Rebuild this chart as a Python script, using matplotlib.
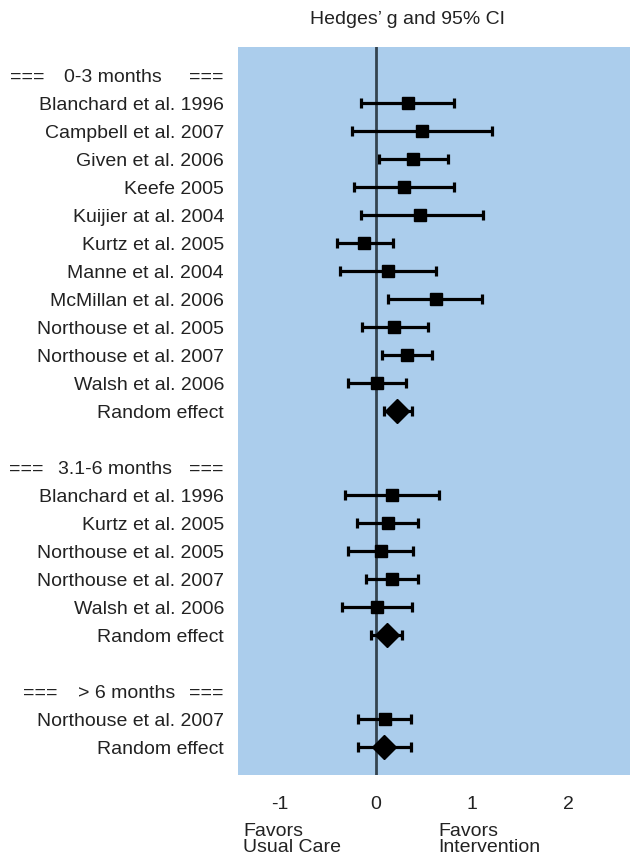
import matplotlib
matplotlib.use("Agg")
import matplotlib.pyplot as plt
from matplotlib.transforms import blended_transform_factory

labels = [
    "0-3 months",
    "Blanchard et al. 1996", "Campbell et al. 2007", "Given et al. 2006", "Keefe 2005",
    "Kuijier at al. 2004", "Kurtz et al. 2005", "Manne et al. 2004", "McMillan et al. 2006",
    "Northouse et al. 2005", "Northouse et al. 2007", "Walsh et al. 2006", "Random effect",
    "",
    "3.1-6 months",
    "Blanchard et al. 1996", "Kurtz et al. 2005", "Northouse et al. 2005",
    "Northouse et al. 2007", "Walsh et al. 2006", "Random effect",
    "",
    "> 6 months",
    "Northouse et al. 2007", "Random effect",
]
# kind: 'h' header, 's' study, 'r' random effect, '' blank
kinds = ["h"] + ["s"] * 11 + ["r", "", "h"] + ["s"] * 5 + ["r", "", "h", "s", "r"]

g = [None, 0.33, 0.48, 0.39, 0.29, 0.46, -0.12, 0.13, 0.62, 0.19, 0.32, 0.01, 0.22,
     None, None, 0.17, 0.12, 0.05, 0.165, 0.01, 0.11,
     None, None, 0.09, 0.08]
lo = [None, -0.16, -0.25, 0.03, -0.23, -0.16, -0.41, -0.38, 0.13, -0.15, 0.06, -0.29, 0.08,
      None, None, -0.32, -0.20, -0.29, -0.10, -0.35, -0.05,
      None, None, -0.19, -0.19]
hi = [None, 0.81, 1.21, 0.75, 0.81, 1.11, 0.175, 0.63, 1.10, 0.54, 0.58, 0.31, 0.37,
      None, None, 0.66, 0.44, 0.39, 0.44, 0.38, 0.27,
      None, None, 0.36, 0.36]

xticks = [-1, 0, 1, 2]

FONT = "Liberation Sans"
TXT = "#222222"
W, H = 630, 857
fig = plt.figure(figsize=(W / 100, H / 100), dpi=100)
ax = fig.add_axes([238 / W, 1 - 775 / H, 1 - 238 / W, (775 - 47) / H])
ax.set_facecolor("#abcdec")
for s in ax.spines.values():
    s.set_visible(False)

ax.axvline(0, color="#34434f", lw=2.0, zorder=2)

for i, k in enumerate(kinds):
    if k in ("s", "r"):
        ax.errorbar(g[i], i, xerr=[[g[i] - lo[i]], [hi[i] - g[i]]], fmt="none",
                    ecolor="black", elinewidth=2.3, capsize=3.5, capthick=2.3, zorder=3)
        if k == "s":
            ax.plot(g[i], i, marker="s", ms=8.5, color="black", zorder=4)
        else:
            ax.plot(g[i], i, marker="D", ms=12, color="black", zorder=4)

ax.set_ylim(len(labels), -1)
ax.set_xlim((238 - 376) / 96, (630 - 376) / 96)
ax.set_yticks(range(len(labels)))
ax.set_yticklabels([l if k != "h" else "" for l, k in zip(labels, kinds)],
                   fontsize=14, family=FONT, color=TXT)
ax.set_xticks(xticks)
ax.set_xticklabels([str(t) for t in xticks], fontsize=14, family=FONT, color=TXT)
ax.tick_params(axis="y", length=0, pad=10)
ax.tick_params(axis="x", length=0, pad=15)

# group headers: "===  label  ==="
tr = blended_transform_factory(fig.transFigure, ax.transData)
header_pos = {"0-3 months": (10, 64), "3.1-6 months": (9, 58), "> 6 months": (23, 78)}
for i, (l, k) in enumerate(zip(labels, kinds)):
    if k == "h":
        xa, xb = header_pos[l]
        ax.text(xa / W, i, "===", transform=tr, ha="left", va="center_baseline",
                fontsize=14, family=FONT, color=TXT)
        ax.text(xb / W, i, l, transform=tr, ha="left", va="center_baseline",
                fontsize=14, family=FONT, color=TXT)
        ax.text(224 / W, i, "===", transform=tr, ha="right", va="center_baseline",
                fontsize=14, family=FONT, color=TXT)

fig.text(407 / W, 1 - 20 / H, "Hedges’ g and 95% CI", ha="center", va="center",
         fontsize=14, family=FONT, color=TXT)
for x0, l1, l2 in [(243, "Favors", "Usual Care"), (438, "Favors", "Intervention")]:
    fig.text(x0 / W, 1 - 832 / H, l1, ha="left", va="center", fontsize=14, family=FONT, color=TXT)
    fig.text(x0 / W, 1 - 848 / H, l2, ha="left", va="center", fontsize=14, family=FONT, color=TXT)

fig.savefig("out.png", dpi=100, facecolor="white")
